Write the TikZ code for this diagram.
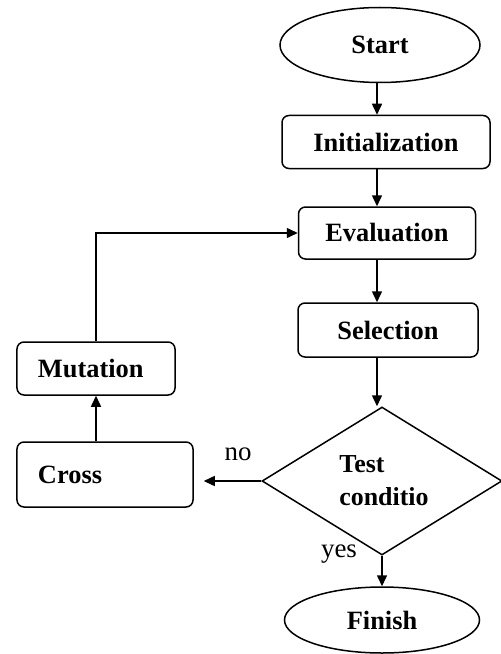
\documentclass[tikz,border=0pt]{standalone}
\usepackage{fontspec}
\setmainfont{Liberation Serif}
\usetikzlibrary{shapes.geometric,arrows.meta}
\begin{document}
\begin{tikzpicture}[x=1bp,y=-1bp,
  every node/.style={font=\fontsize{26.5}{32}\selectfont\bfseries},
  base/.style={draw=black,line width=1.5bp,inner sep=0pt},
  term/.style={base,ellipse},
  proc/.style={base,rectangle,rounded corners=7bp},
  dec/.style={base,diamond},
  arr/.style={line width=1.5bp,-{Triangle[length=11bp,width=10bp]}},
  lbl/.style={font=\fontsize{27}{32}\selectfont,anchor=base}
]
\useasboundingbox (0,0) rectangle (501,654);
\clip (0,0) rectangle (501,654);
\coordinate (ax) at (377,0);
\node[term,minimum width=200bp,minimum height=75bp] (start) at (380,45) {Start};
\node[proc,minimum width=208bp,minimum height=53bp] (init) at (386,142) {Initialization};
\node[proc,minimum width=177bp,minimum height=52bp] (eval) at (387,233) {Evaluation};
\node[proc,minimum width=180bp,minimum height=54bp] (sel) at (388,330) {Selection};
\node[dec,minimum width=240bp,minimum height=148bp] (dia) at (382,481) {};
\node[align=left,font=\fontsize{26}{33}\selectfont\bfseries] (diat) at (384,481) {Test\\conditio};
\node[term,minimum width=195bp,minimum height=66bp] (fin) at (382,620) {Finish};
\node[proc,minimum height=53bp,text width=116bp,inner xsep=21bp,align=left] (mut) at (96,368.5) {Mutation};
\node[proc,minimum height=65bp,text width=134bp,inner xsep=21bp,align=left] (cross) at (105,474.5) {Cross};
\node[lbl] (no) at (238,460) {no};
\node[lbl] (yes) at (339,557) {yes};

\draw[arr] (start.south -| ax) -- (init.north -| ax);
\draw[arr] (init.south -| ax) -- (eval.north -| ax);
\draw[arr] (eval.south -| ax) -- (sel.north -| ax);
\draw[arr] (sel.south -| ax) -- (dia.north -| ax);
\draw[arr] (dia.south) -- (fin.north);
\draw[arr,shorten >=10bp] (dia.west) -- (dia.west -| cross.east);
\draw[arr] (cross.north -| mut.north) -- (mut.south);
\draw[arr] (mut.north) |- (eval.west);
\end{tikzpicture}
\end{document}
